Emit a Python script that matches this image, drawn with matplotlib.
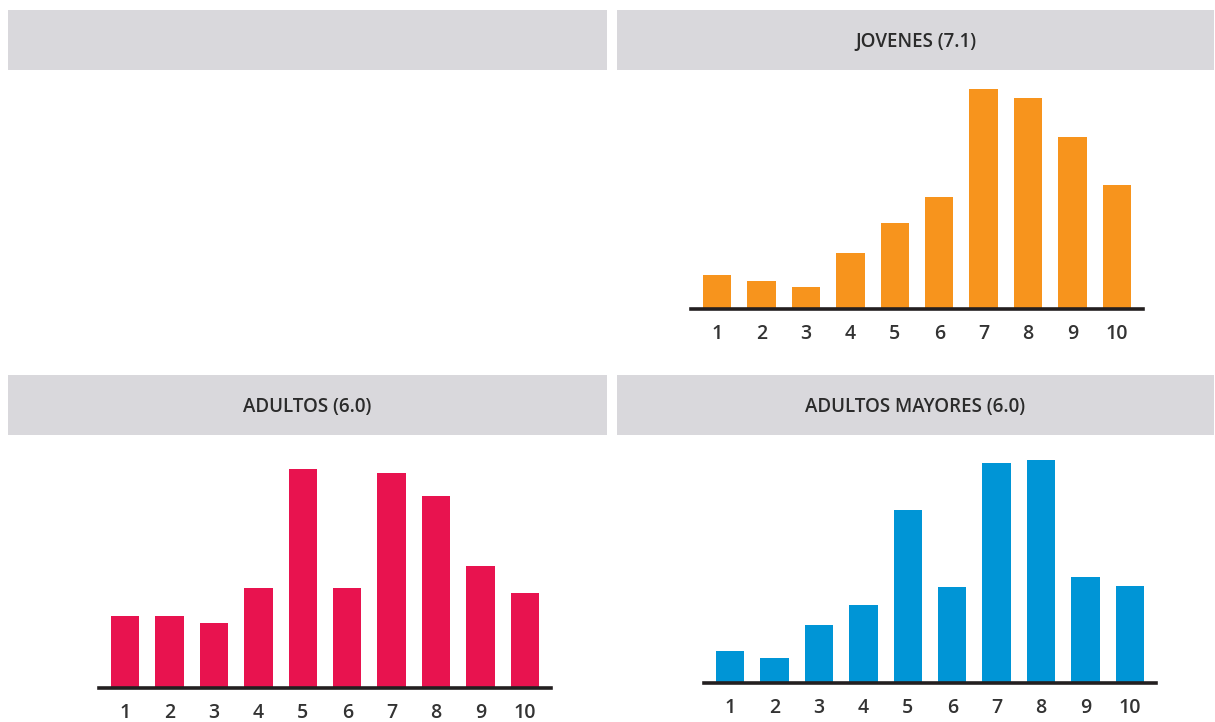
import matplotlib
matplotlib.use("Agg")
import matplotlib.pyplot as plt
from matplotlib.patches import Rectangle

# puntajes 1..10 y altura de cada barra
scores = [1, 2, 3, 4, 5, 6, 7, 8, 9, 10]
jovenes = [34, 28, 22, 56, 86, 112, 220, 211, 172, 124]
adultos = [72, 72, 65, 100, 219, 100, 215, 192, 122, 95]
mayores = [32, 25, 58, 78, 173, 96, 220, 223, 106, 97]

titles = ["", "JOVENES (7.1)", "ADULTOS (6.0)", "ADULTOS MAYORES (6.0)"]
colors = ["#f7941d", "#e8134f", "#0095d6"]

W, H = 1215, 722
fig = plt.figure(figsize=(W / 100, H / 100), dpi=100)
fig.patch.set_facecolor("white")


def px(x0, y0, w, h):
    # caja en pixeles (origen arriba-izq) -> fraccion de figura
    return [x0 / W, 1 - (y0 + h) / H, w / W, h / H]


# cabeceras grises
headers = [(8, 10), (617, 10), (8, 375), (617, 375)]
for (hx, hy), t in zip(headers, titles):
    b = px(hx, hy, 597 if hx > 10 else 599, 60)
    fig.patches.append(Rectangle((b[0], b[1]), b[2], b[3], transform=fig.transFigure,
                                 facecolor="#d9d8dc", edgecolor="none", zorder=0))
    if t:
        fig.text(b[0] + b[2] / 2, b[1] + b[3] / 2 - 2 / H, t, ha="center", va="center",
                 fontsize=13.5, fontweight="semibold", family="Open Sans",
                 color="#2b2b2b")


def panel(left, base, values, color):
    ax = fig.add_axes(px(left, base - 230, 452, 230))
    ax.bar(scores, values, width=0.64, color=color, zorder=2)
    ax.set_xlim(0.42, 10.58)
    ax.set_ylim(0, 230)
    for s in ["top", "right", "left"]:
        ax.spines[s].set_visible(False)
    ax.spines["bottom"].set_linewidth(2.6)
    ax.spines["bottom"].set_color("#231f20")
    ax.spines["bottom"].set_zorder(3)
    ax.set_yticks([])
    ax.set_xticks(scores)
    ax.set_xticklabels([str(s) for s in scores], family="Open Sans", fontsize=14,
                       fontweight="semibold", color="#333333")
    ax.tick_params(axis="x", length=0, pad=11)
    ax.patch.set_alpha(0)
    return ax


panel(691, 309, jovenes, colors[0])
panel(99, 688, adultos, colors[1])
panel(704, 683, mayores, colors[2])

fig.savefig("out.png", dpi=100, facecolor="white")
